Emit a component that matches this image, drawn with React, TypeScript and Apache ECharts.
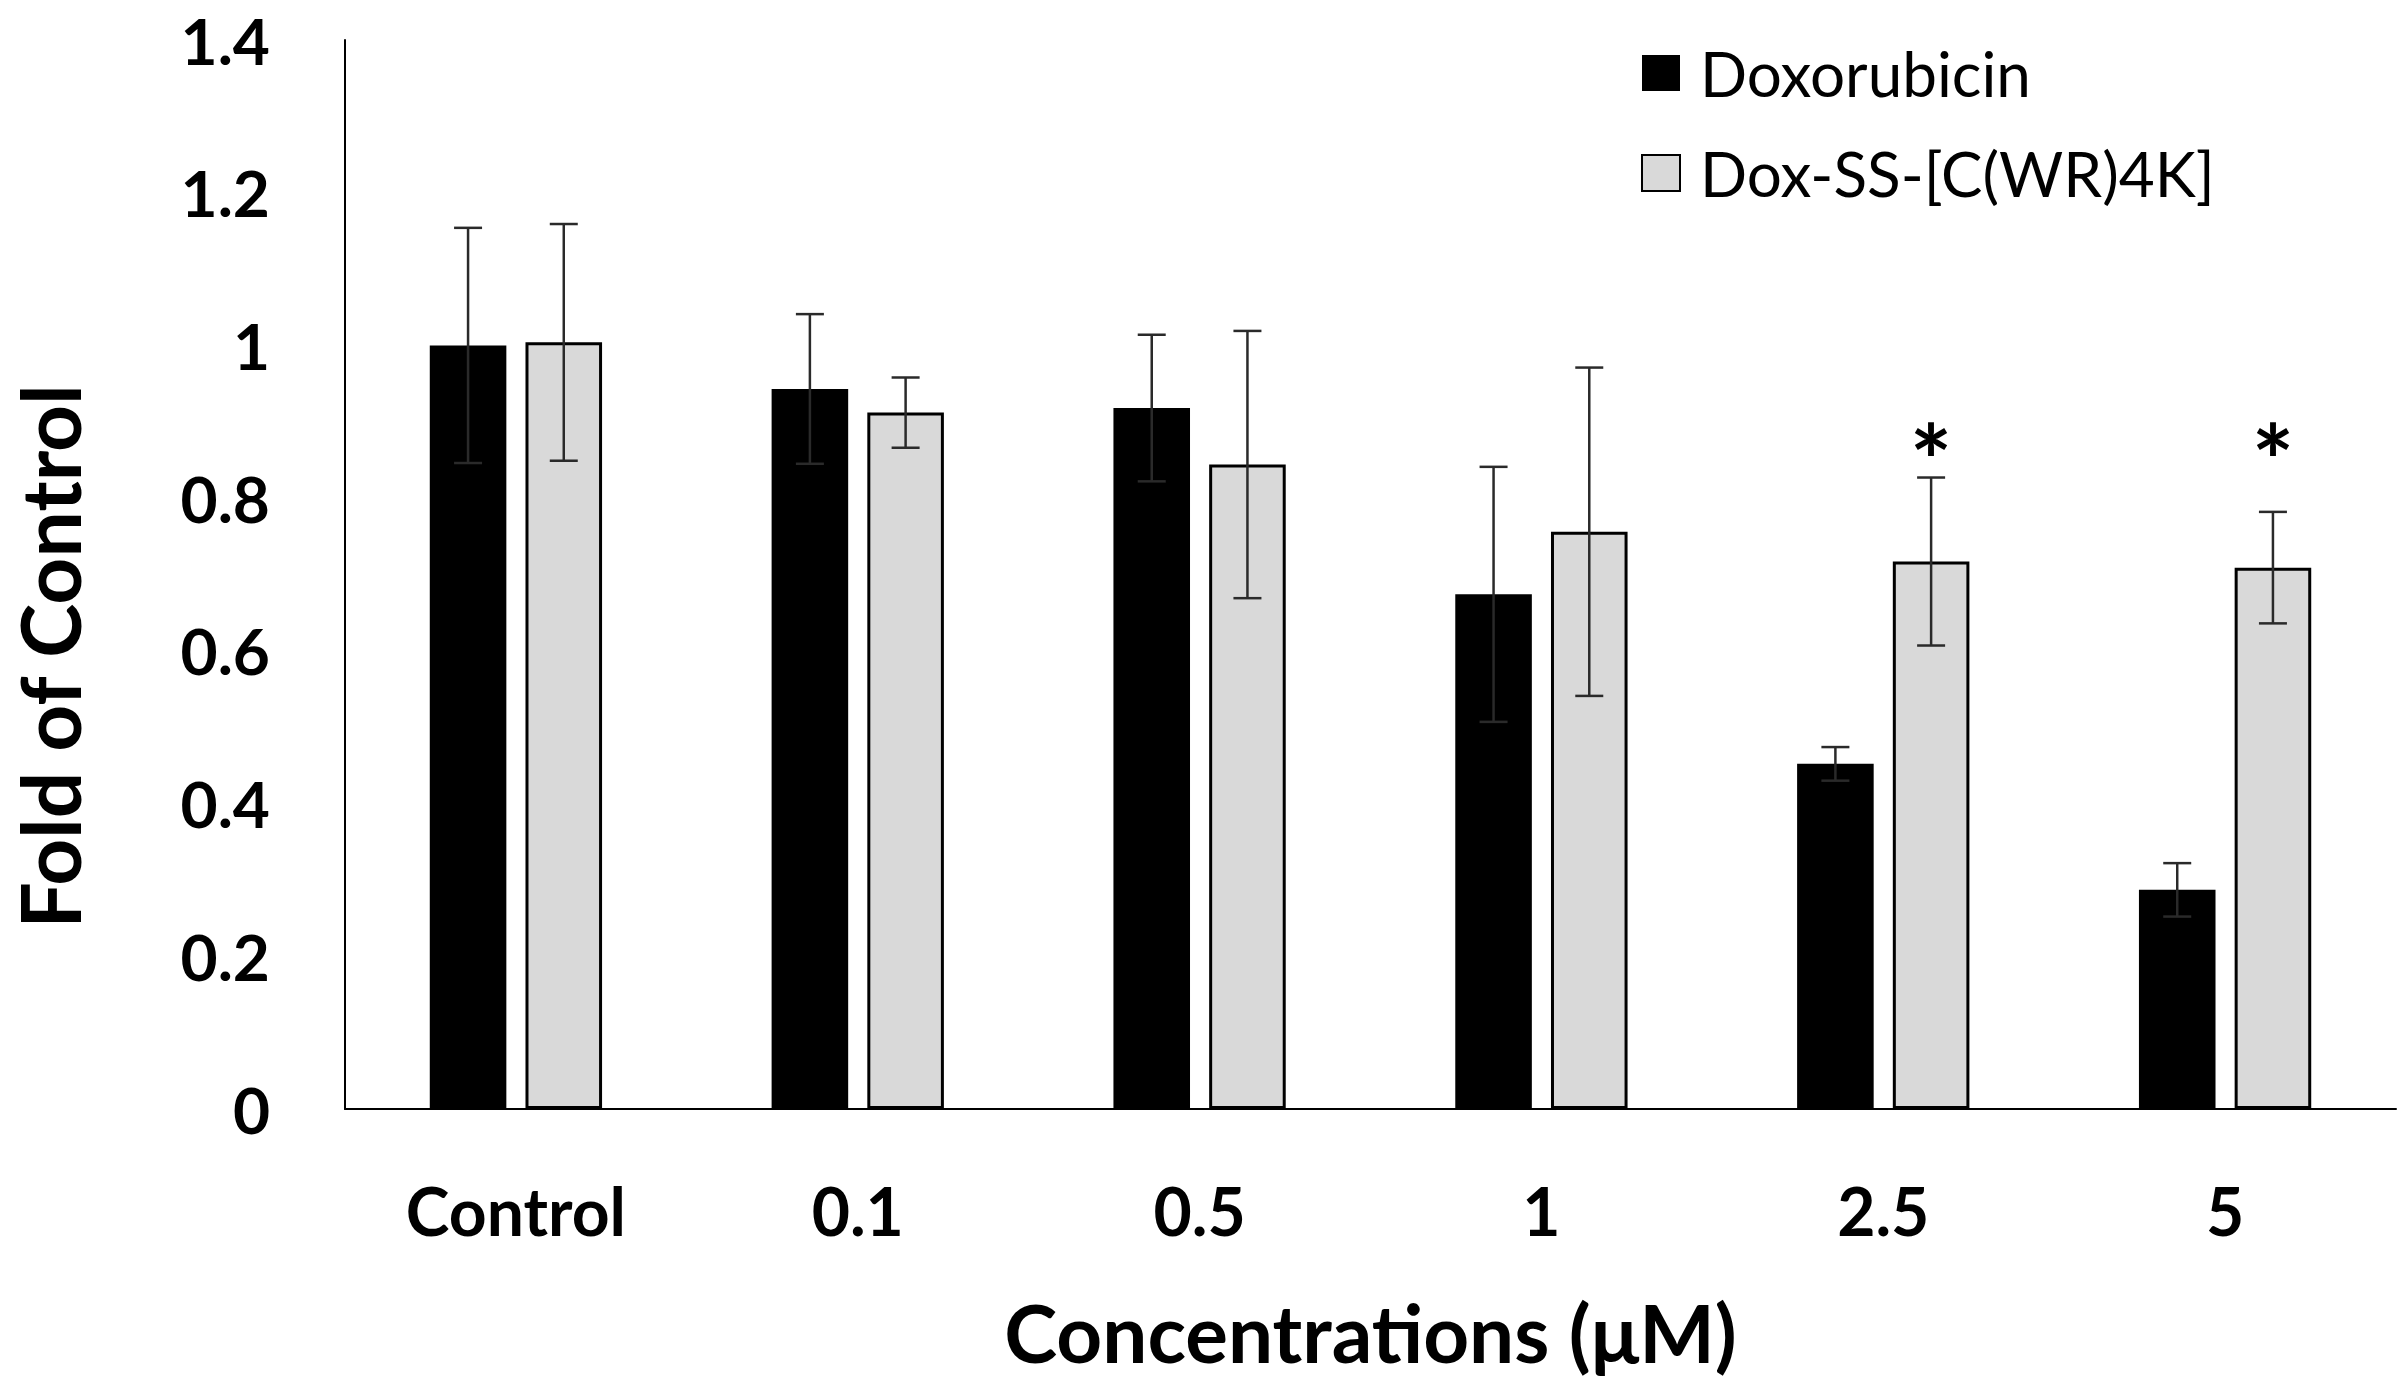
import React, { useEffect, useRef } from "react";
import * as echarts from "echarts";

const categories = ["Control", "0.1", "0.5", "1", "2.5", "5"];
const doxMean = [1.0, 0.943, 0.918, 0.674, 0.452, 0.287];
const doxSd = [0.154, 0.098, 0.096, 0.167, 0.022, 0.035];
const conjMean = [1.004, 0.912, 0.844, 0.756, 0.717, 0.709];
const conjSd = [0.155, 0.046, 0.175, 0.215, 0.11, 0.073];
const sigMarks = ["", "", "", "", "*", "*"];
const sigLevel = 0.878;
const yTicks = { min: 0, max: 1.4, interval: 0.2 };
const seriesNames = ["Doxorubicin", "Dox-SS-[C(WR)4K]"];

const FONT = "Lato";
const BAR_W = 0.224;
const BAR_GAP = 0.25;
const OFFSET = (BAR_W * (1 + BAR_GAP)) / 2;

function errData(mean: number[], sd: number[]) {
  return mean.map((m, i) => [i, m - sd[i], m + sd[i]]);
}

function errRender(sign: number) {
  return (params: any, api: any) => {
    const idx = api.value(0);
    const lo = api.coord([idx, api.value(1)]);
    const hi = api.coord([idx, api.value(2)]);
    const band = api.size([1, 0])[0];
    const x = lo[0] + sign * band * OFFSET;
    const cap = 14;
    const style = { stroke: "#2a2a2a", lineWidth: 2.5 };
    return {
      type: "group",
      children: [
        { type: "line", shape: { x1: x, y1: lo[1], x2: x, y2: hi[1] }, style },
        { type: "line", shape: { x1: x - cap, y1: hi[1], x2: x + cap, y2: hi[1] }, style },
        { type: "line", shape: { x1: x - cap, y1: lo[1], x2: x + cap, y2: lo[1] }, style },
      ],
    };
  };
}

export default function App() {
  const ref = useRef<HTMLDivElement>(null);
  useEffect(() => {
    if (!ref.current) return;
    const chart = echarts.init(ref.current, null, { renderer: "svg" });
    const sigData = sigMarks
      .map((s, i) => (s ? [i, sigLevel, s] : null))
      .filter((d) => d !== null);
    chart.setOption({
      animation: false,
      backgroundColor: "#ffffff",
      textStyle: { fontFamily: FONT },
      grid: { left: 338, right: 4, top: 40, bottom: 281, containLabel: false },
      legend: {
        data: seriesNames,
        orient: "vertical",
        left: 1636,
        top: 37,
        itemWidth: 38,
        itemHeight: 36,
        itemGap: 38,
        icon: "rect",
        textStyle: {
          fontFamily: FONT,
          fontSize: 62,
          color: "#000",
          lineHeight: 60,
          padding: [0, 0, 0, 15],
        },
      },
      xAxis: {
        type: "category",
        data: categories,
        name: "Concentrations (μM)",
        nameLocation: "middle",
        nameGap: 183,
        nameTextStyle: { fontFamily: FONT, fontSize: 80, fontWeight: "bold", color: "#000" },
        axisLine: { lineStyle: { color: "#000", width: 2 } },
        axisTick: { show: false },
        axisLabel: {
          fontFamily: FONT,
          fontSize: 66,
          fontWeight: "bold",
          color: "#000",
          margin: 68,
        },
      },
      yAxis: {
        type: "value",
        min: yTicks.min,
        max: yTicks.max,
        interval: yTicks.interval,
        name: "Fold of Control",
        nameLocation: "middle",
        nameGap: 255,
        nameTextStyle: {
          fontFamily: FONT,
          fontSize: 82,
          fontWeight: "bold",
          color: "#000",
          padding: [0, 164, 0, 0],
        },
        axisLine: { show: true, lineStyle: { color: "#000", width: 2 } },
        axisTick: { show: false },
        splitLine: { show: false },
        axisLabel: {
          fontFamily: FONT,
          fontSize: 64,
          fontWeight: "bold",
          color: "#000",
          lineHeight: 52,
          margin: 75,
        },
      },
      series: [
        {
          name: seriesNames[0],
          type: "bar",
          data: doxMean,
          barWidth: BAR_W * 100 + "%",
          barGap: BAR_GAP * 100 + "%",
          itemStyle: { color: "#000000" },
        },
        {
          name: seriesNames[1],
          type: "bar",
          data: conjMean,
          barWidth: BAR_W * 100 + "%",
          barGap: BAR_GAP * 100 + "%",
          itemStyle: { color: "#d9d9d9", borderColor: "#000000", borderWidth: 3 },
        },
        {
          type: "custom",
          name: "errDox",
          data: errData(doxMean, doxSd),
          renderItem: errRender(-1),
          encode: { x: 0, y: [1, 2] },
          z: 5,
        },
        {
          type: "custom",
          name: "errConj",
          data: errData(conjMean, conjSd),
          renderItem: errRender(1),
          encode: { x: 0, y: [1, 2] },
          z: 5,
        },
        {
          type: "custom",
          name: "sig",
          data: sigData,
          encode: { x: 0, y: 1 },
          renderItem: (params: any, api: any) => {
            const p = api.coord([api.value(0), api.value(1)]);
            const band = api.size([1, 0])[0];
            return {
              type: "text",
              x: p[0] + band * OFFSET,
              y: p[1] + 20,
              style: {
                text: "*",
                fontFamily: FONT,
                fontSize: 100,
                fontWeight: "bold",
                fill: "#000",
                align: "center",
                verticalAlign: "middle",
              },
            };
          },
          z: 6,
        },
      ],
    });
    return () => chart.dispose();
  }, []);
  return (
    <div
      ref={ref}
      style={{ position: "fixed", left: 0, top: 0, width: 2400, height: 1390 }}
    />
  );
}
